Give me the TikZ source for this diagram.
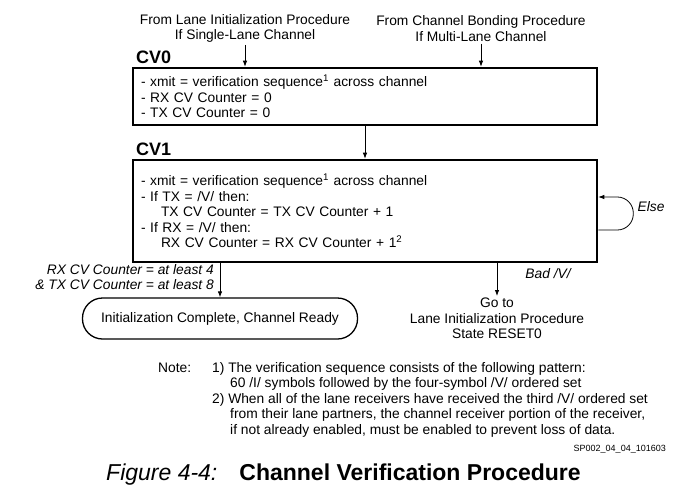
\documentclass[tikz,border=0pt]{standalone}
\usepackage{fontspec}
\setmainfont{Liberation Sans}
\usetikzlibrary{positioning,arrows.meta}

\begin{document}
\begin{tikzpicture}[x=1pt, y=-1pt,
    every node/.style={font=\fontsize{13.8}{15.5}\selectfont, inner sep=2pt},
    state/.style={draw, line width=2.6pt, minimum width=464pt, text width=448pt, align=left},
    arr/.style={-{Latex[length=6pt,width=4.5pt]}, line width=0.8pt},
    tag/.style={font=\fontsize{18}{20}\selectfont\bfseries, anchor=west},
    cond/.style={font=\fontsize{13.8}{15.5}\selectfont\itshape}]
    \useasboundingbox (0,0) rectangle (692,495);

    % sources
    \node (lanesrc) [align=center] at (245,28.5) {From Lane Initialization Procedure\\If Single-Lane Channel};
    \node (bondsrc) [align=center] at (481,28.5) {From Channel Bonding Procedure\\If Multi-Lane Channel};

    % states
    \node (cv0) [state, minimum height=57pt] at (365,96.5)
        {- xmit = verification sequence\textsuperscript{1} across channel\\- RX CV Counter = 0\\- TX CV Counter = 0};
    \node (cv1) [state, minimum height=102pt] at (365,211)
        {- xmit = verification sequence\textsuperscript{1} across channel\\- If TX = /V/ then:\\
         \hspace*{1.45em}TX CV Counter = TX CV Counter + 1\\- If RX = /V/ then:\\
         \hspace*{1.45em}RX CV Counter = RX CV Counter + 1\textsuperscript{2}};
    \node (cv0tag) [tag] at (134,57) {CV0};
    \node (cv1tag) [tag] at (134,149) {CV1};

    % exits
    \node (done) [draw, line width=1.3pt, rounded corners=20pt, minimum width=275pt, minimum height=41pt] at (220,318.5)
        {Initialization Complete, Channel Ready};
    \node (goto) [align=center, anchor=north] at (497,296) {Go to\\Lane Initialization Procedure\\State RESET0};
    \node (donecond) [cond, align=right, anchor=east] at (216,277) {RX CV Counter = at least 4\\\& TX CV Counter = at least 8};
    \node (badv) [cond] at (548,274) {Bad /V/};
    \node (elselbl) [cond] at (651,207) {Else};

    \draw[arr] (lanesrc.south) -- (lanesrc.south |- cv0.north);
    \draw[arr] (bondsrc.south) -- (bondsrc.south |- cv0.north);
    \draw[arr] (cv0.south) -- (cv1.north);
    \draw[arr] (cv1.south -| done.north) -- (done.north);
    \draw[arr] (cv1.south -| goto.north) -- (goto.north);
    \draw[arr, rounded corners=16pt] ([yshift=-19pt]cv1.east) -- ++(35,0) -- ++(0,-33) -- ([yshift=14pt]cv1.east);

    % notes
    \node (note) [anchor=north west, align=left, inner sep=0pt] at (158,361)
        {\begin{tabular}{@{}p{54pt}@{}l@{}}
         Note: & 1) The verification sequence consists of the following pattern:\\
               & \hspace*{18pt}60 /I/ symbols followed by the four-symbol /V/ ordered set\\
               & 2) When all of the lane receivers have received the third /V/ ordered set\\
               & \hspace*{18pt}from their lane partners, the channel receiver portion of the receiver,\\
               & \hspace*{18pt}if not already enabled, must be enabled to prevent loss of data.
         \end{tabular}};
    \node (figid) [anchor=east, font=\fontsize{9}{10}\selectfont] at (668,449) {SP002\_04\_04\_101603};
    \node (caption) [anchor=west, font=\fontsize{23}{26}\selectfont] at (104,475)
        {\textit{Figure 4-4:}\hspace{22pt}\textbf{Channel Verification Procedure}};
\end{tikzpicture}
\end{document}
